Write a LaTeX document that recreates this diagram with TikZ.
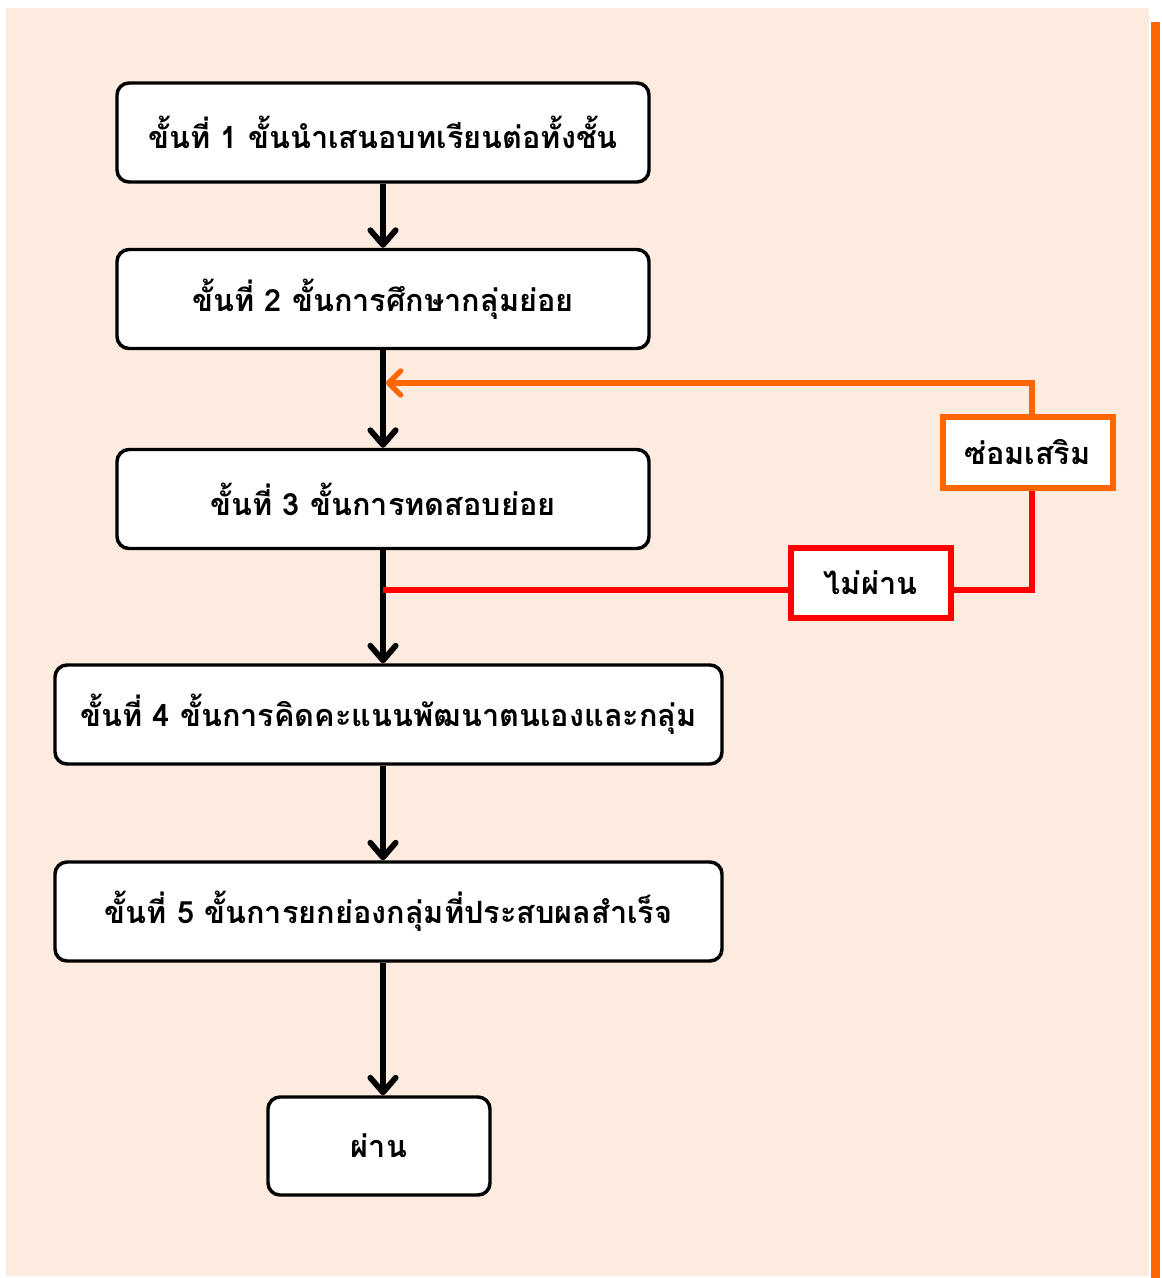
\documentclass[tikz,border=0pt]{standalone}
\usepackage{fontspec}
\newfontfamily\thaifont[Script=Thai]{Loma}
\usetikzlibrary{arrows.meta,calc}
\definecolor{peach}{RGB}{253,235,224}
\definecolor{orng}{RGB}{255,102,0}
\definecolor{rd}{RGB}{255,0,0}
\begin{document}
\begin{tikzpicture}[x=0.75pt,y=-0.75pt,
  stepbox/.style={draw=black,fill=white,line width=2.6pt,rounded corners=9pt,
    minimum height=99*0.75pt,inner sep=0pt,font=\thaifont\bfseries\fontsize{23}{26}\selectfont,anchor=center},
  tagbox/.style={fill=white,inner sep=0pt,font=\thaifont\bfseries\fontsize{23}{26}\selectfont},
  flow/.style={draw=black,line width=4.3pt,-{Straight Barb[length=11pt,width=19pt,line width=4.3pt,round]}},
  conn/.style={line width=4pt}]
\useasboundingbox (0,0) rectangle (1161,1278);
\fill[peach] (6,8) rectangle (1149,1276);
\fill[orng] (1151,22) rectangle (1160,1278);
\node[stepbox,minimum width=532*0.75pt] (b1) at (383,132.5) {ขั้นที่ 1 ขั้นนำเสนอบทเรียนต่อทั้งชั้น};
\node[stepbox,minimum width=532*0.75pt] (b2) at (383,299) {ขั้นที่ 2 ขั้นการศึกษากลุ่มย่อย};
\node[stepbox,minimum width=532*0.75pt] (b3) at (383,499) {ขั้นที่ 3 ขั้นการทดสอบย่อย};
\node[stepbox,minimum width=667*0.75pt] (b4) at (388.5,714.5) {ขั้นที่ 4 ขั้นการคิดคะแนนพัฒนาตนเองและกลุ่ม};
\node[stepbox,minimum width=667*0.75pt] (b5) at (388.5,911.5) {ขั้นที่ 5 ขั้นการยกย่องกลุ่มที่ประสบผลสำเร็จ};
\node[stepbox,minimum width=222*0.75pt,minimum height=98*0.75pt] (b6) at (379,1146) {ผ่าน};
\node[tagbox,draw=orng,line width=4.5pt,minimum width=170*0.75pt,minimum height=71*0.75pt] (rep) at (1027.5,452) {ซ่อมเสริม};
\node[tagbox,draw=rd,line width=4.5pt,minimum width=160*0.75pt,minimum height=70*0.75pt] (fail) at (870.5,582.5) {ไม่ผ่าน};
\coordinate (cx) at (383,0);
\coordinate (rx) at (1032,0);
\coordinate (ry) at (0,590);
\coordinate (oy) at (0,383);
\draw[flow] (b1.south -| cx) -- (b2.north -| cx);
\draw[flow] (b2.south -| cx) -- (b3.north -| cx);
\draw[flow] (b3.south -| cx) -- (b4.north -| cx);
\draw[flow] (b4.south -| cx) -- (b5.north -| cx);
\draw[flow] (b5.south -| cx) -- (b6.north -| cx);
\draw[conn,draw=rd] (cx |- ry) -- (fail.west |- ry);
\draw[conn,draw=rd] (fail.east |- ry) -- (rx |- ry) -- (rx |- rep.south);
\draw[conn,draw=orng,-{Straight Barb[length=9pt,width=18pt,line width=4pt,round]}] (rx |- rep.north) -- (rx |- oy) -- ($(cx |- oy)+(3,0)$);
\end{tikzpicture}
\end{document}
